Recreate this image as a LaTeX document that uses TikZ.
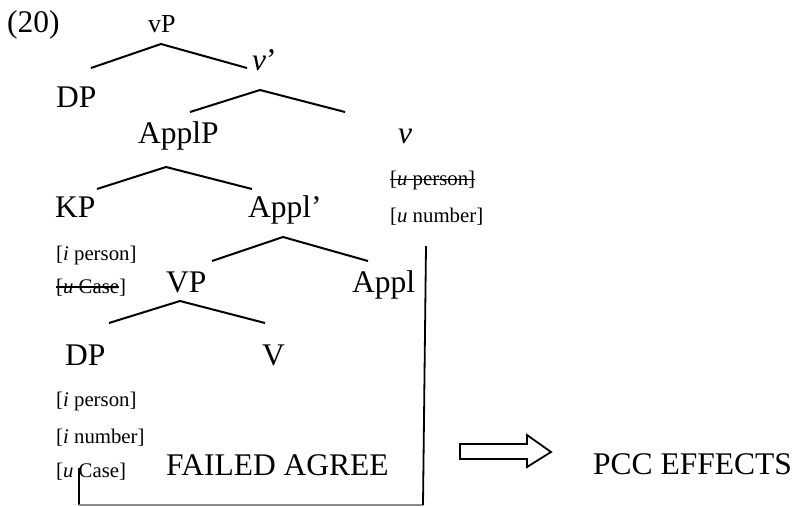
\documentclass[tikz,border=0pt]{standalone}
\usepackage{fontspec}
\setmainfont{Liberation Serif}
\begin{document}
\begin{tikzpicture}[x=1pt,y=-1pt,
  big/.style={font=\fontsize{31.5}{36}\selectfont, inner sep=0pt, anchor=base west},
  mid/.style={font=\fontsize{26}{30}\selectfont, inner sep=0pt, anchor=base west},
  small/.style={font=\fontsize{20.8}{24}\selectfont, inner sep=0pt, anchor=base west},
  branch/.style={line width=2pt},
  strike/.style={line width=1.6pt},
  link/.style={line width=1.8pt},
  bottomlink/.style={line width=1.4pt, black!45},
  hollowarrow/.style={line width=1.8pt, fill=white, line join=miter}]
\useasboundingbox (0,0) rectangle (795,506);

% labels
\node[big] (ex) at (7,32) {(20)};
\node[mid] (vP) at (148,32) {vP};
\node[big] (vbar) at (252,70) {\textit{v}’};
\node[big] (DPa) at (56,107) {DP};
\node[big] (ApplP) at (138,143) {ApplP};
\node[big] (v) at (398,143) {\textit{v}};
\node[small] (uperson) at (390,185) {[\textit{u} person]};
\node[small] (unumber) at (390,222) {[\textit{u} number]};
\node[big] (KP) at (55,217) {KP};
\node[big] (Applbar) at (248,217) {Appl’};
\node[small] (kiperson) at (56,260) {[\textit{i} person]};
\node[small] (kucase) at (56,293) {[\textit{u} Case]};
\node[big] (VP) at (166,292) {VP};
\node[big] (Appl) at (352,292) {Appl};
\node[big] (DPb) at (65,365) {DP};
\node[big] (V) at (262,365) {V};
\node[small] (diperson) at (56,406) {[\textit{i} person]};
\node[small] (dinumber) at (56,443) {[\textit{i} number]};
\node[small] (ducase) at (56,477) {[\textit{u} Case]};
\node[big] (failed) at (166,475) {FAILED AGREE};
\node[big] (pcc) at (593,474) {PCC EFFECTS};

% strike-throughs
\draw[strike] ([yshift=5.5pt]uperson.base west) -- ([yshift=5.5pt]uperson.base east);
\draw[strike] ([yshift=6pt]kucase.base west) -- ([xshift=-7pt,yshift=6pt]kucase.base east);

% tree branches
\coordinate (a1) at (161,44); \coordinate (l1) at (91,68);  \coordinate (r1) at (247,68);
\coordinate (a2) at (260,90); \coordinate (l2) at (190,112); \coordinate (r2) at (345,112);
\coordinate (a3) at (166,167); \coordinate (l3) at (97,189); \coordinate (r3) at (252,189);
\coordinate (a4) at (283,237); \coordinate (l4) at (212,261); \coordinate (r4) at (368,261);
\coordinate (a5) at (180,301); \coordinate (l5) at (109,323); \coordinate (r5) at (265,323);
\foreach \i in {1,...,5}{\draw[branch] (l\i) -- (a\i) -- (r\i);}

% agree connector
\coordinate (c1) at (79,468);
\coordinate (c2) at (79,505);
\coordinate (c3) at (423,505);
\coordinate (c4) at (426,246);
\draw[link] (c1) -- (c2);
\draw[bottomlink] (c2) -- (c3);
\draw[link] (c3) -- (c4);

% hollow arrow
\coordinate (ar) at (460,451.5);
\draw[hollowarrow] (ar) ++(0,-7.5) -- ++(67,0) -- ++(0,-9) -- (551,452) -- (527,467) -- (527,459) -- (460,459) -- cycle;
\end{tikzpicture}
\end{document}
